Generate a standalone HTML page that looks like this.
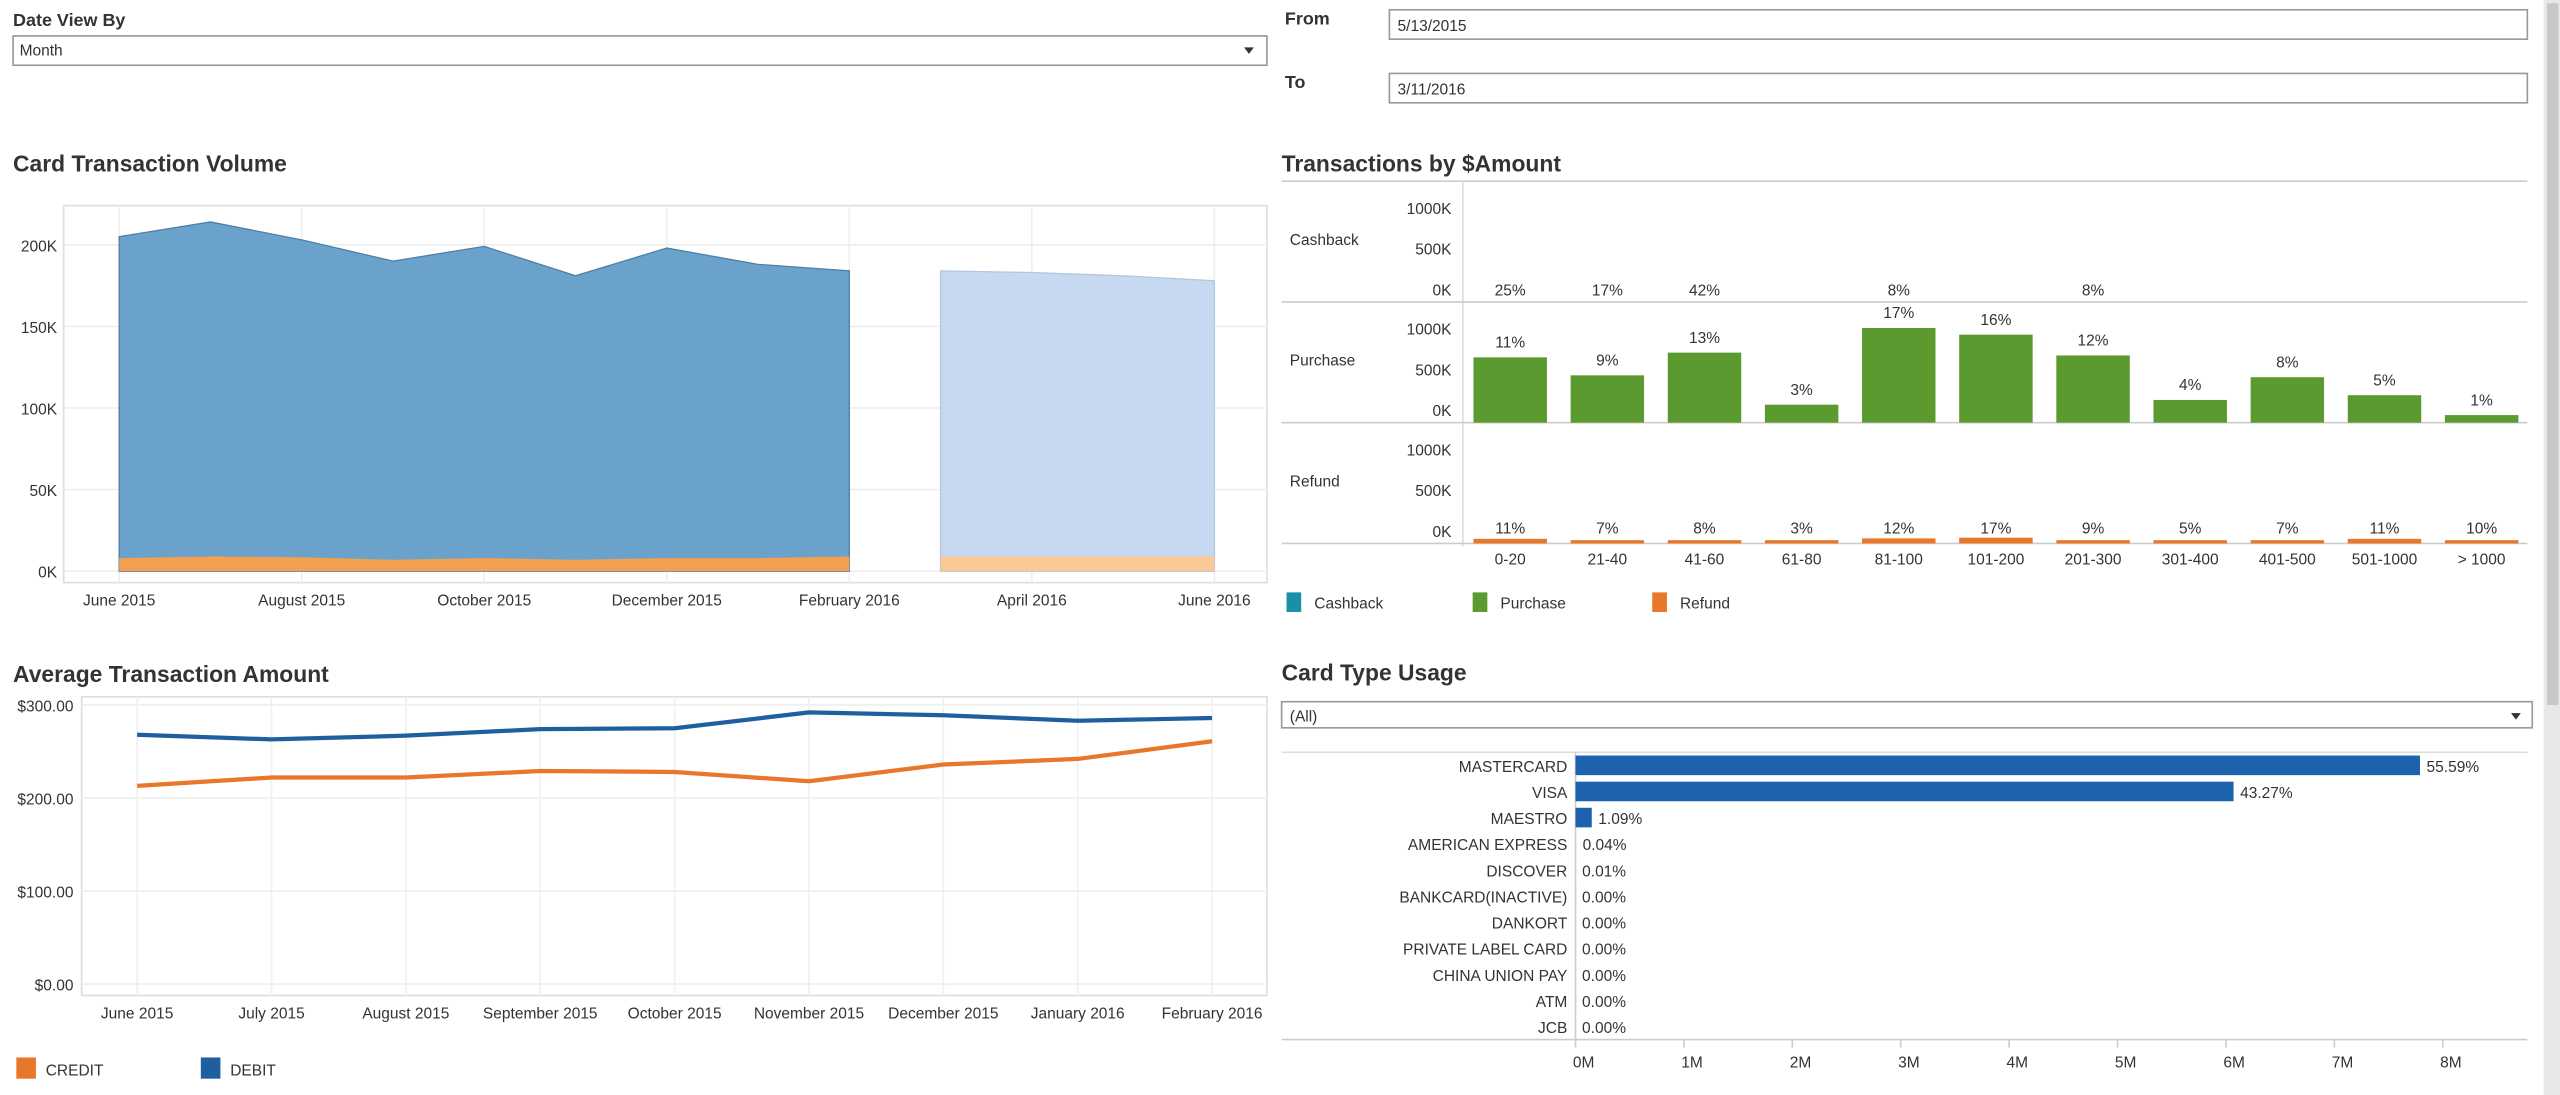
<!DOCTYPE html>
<html><head><meta charset="utf-8"><style>
html,body{margin:0;padding:0;background:#fff;overflow:hidden}
svg{display:block}
text{font-family:"Liberation Sans",sans-serif;fill:#333}
.t{font-size:14px;font-weight:bold;fill:#333}
.s{font-size:9.5px}
.lab{font-size:11px}
</style></head><body>
<svg id="root" width="2560" height="1095" viewBox="0 0 1568 671" preserveAspectRatio="none" xmlns="http://www.w3.org/2000/svg">
<text x="8" y="16" class="lab" font-weight="bold">Date View By</text>
<g><rect x="8" y="22" width="768" height="18" fill="#fff" stroke="#999"/><text x="12" y="34" class="s">Month</text><path d="M762 29 l6 0 l-3 4z" fill="#333"/></g>
<text x="787" y="15" class="lab" font-weight="bold">From</text>
<g><rect x="851" y="6" width="697" height="18" fill="#fff" stroke="#999"/><text x="856" y="19" class="s">5/13/2015</text></g>
<text x="787" y="54" class="lab" font-weight="bold">To</text>
<g><rect x="851" y="45" width="697" height="18" fill="#fff" stroke="#999"/><text x="856" y="58" class="s">3/11/2016</text></g>
<rect x="1558" y="0" width="10" height="671" fill="#e8e8e8"/>
<rect x="1560" y="2" width="7" height="430" fill="#c8c8c8"/>

<text x="8" y="105" class="t">Card Transaction Volume</text>
<g id="vol"></g>
<text x="785" y="105" class="t">Transactions by $Amount</text>
<g id="amt"></g>
<text x="8" y="418" class="t">Average Transaction Amount</text>
<g id="avg"></g>
<text x="785" y="417" class="t">Card Type Usage</text>
<g><rect x="785" y="430" width="766" height="16" fill="#fff" stroke="#999"/><text x="790" y="442" class="s">(All)</text><path d="M1538 437 l6 0 l-3 4z" fill="#333"/></g>
<g id="ct"></g>
</svg>
<script>
const volMonths = ['Jun 15','Jul 15','Aug 15','Sep 15','Oct 15','Nov 15','Dec 15','Jan 16','Feb 16'];
const volTotal = [205,214,203,190,199,181,198,188,184];
const volCredit = [8,9,8.5,7,8,7,8,8,9];
const fcTotal = [184,183,181,178];
const fcCredit = [9,9,9,9];
const volTicks = [0,50,100,150,200];
const volXLabels = ['June 2015','August 2015','October 2015','December 2015','February 2016','April 2016','June 2016'];
const amtCats = ['0-20','21-40','41-60','61-80','81-100','101-200','201-300','301-400','401-500','501-1000','> 1000'];
const purchaseVals = [690,500,740,190,1000,930,710,240,480,290,80];
const purchasePct = ['11%','9%','13%','3%','17%','16%','12%','4%','8%','5%','1%'];
const refundVals = [20,12,12,4,22,25,14,12,12,20,12];
const refundPct = ['11%','7%','8%','3%','12%','17%','9%','5%','7%','11%','10%'];
const cashbackPct = ['25%','17%','42%','','8%','','8%','','','',''];
const amtTicks = [0,500,1000];
const avgMonths = ['June 2015','July 2015','August 2015','September 2015','October 2015','November 2015','December 2015','January 2016','February 2016'];
const debitVals = [268,263,267,274,275,292,289,283,286];
const creditVals = [213,222,222,229,228,218,236,242,261];
const avgTicks = [0,100,200,300];
const cardTypes = ['MASTERCARD','VISA','MAESTRO','AMERICAN EXPRESS','DISCOVER','BANKCARD(INACTIVE)','DANKORT','PRIVATE LABEL CARD','CHINA UNION PAY','ATM','JCB'];
const cardVals = [7.79,6.07,0.15,0.005,0.001,0,0,0,0,0,0];
const cardPct = ['55.59%','43.27%','1.09%','0.04%','0.01%','0.00%','0.00%','0.00%','0.00%','0.00%','0.00%'];
const cardTicks = [0,1,2,3,4,5,6,7,8];

const NS='http://www.w3.org/2000/svg';
function mk(p,tag,at,txt){const e=document.createElementNS(NS,tag);for(const k in at)e.setAttribute(k,at[k]);if(txt!==undefined)e.textContent=txt;p.appendChild(e);return e;}

(function(){
const g=document.getElementById('vol');
const y=v=>350-v*(350-150)/200, x=i=>73+i*55.9;
mk(g,'rect',{x:39,y:126,width:737,height:231,fill:'#fff',stroke:'#ddd'});
volTicks.forEach(t=>{mk(g,'line',{x1:39,x2:776,y1:y(t),y2:y(t),stroke:'#eee'});
const tx=mk(g,'text',{x:35,y:y(t)+4,'text-anchor':'end',class:'s'},t+'K');

});
volXLabels.forEach((s,i)=>{const xx=x(i*2);mk(g,'line',{x1:xx,x2:xx,y1:126,y2:357,stroke:'#eee'});
const tx=mk(g,'text',{x:xx,y:371,'text-anchor':'middle',class:'s'},s);

});
let d='M'+x(0)+' '+y(0);volTotal.forEach((v,i)=>d+=' L'+x(i)+' '+y(v));d+=' L'+x(volTotal.length-1)+' '+y(0)+'Z';
const a=mk(g,'path',{d:d,fill:'#6aa2cc',stroke:'#4f7fa6','stroke-width':0.8});


d='M'+x(0)+' '+y(0);volCredit.forEach((v,i)=>d+=' L'+x(i)+' '+y(v));d+=' L'+x(volCredit.length-1)+' '+y(0)+'Z';
const b=mk(g,'path',{d:d,fill:'#f4a04e'});


const fx=i=>x(9)+(i)*(x(12)-x(9))/3;
d='M'+x(9)+' '+y(0);fcTotal.forEach((v,i)=>d+=' L'+fx(i)+' '+y(v));d+=' L'+fx(3)+' '+y(0)+'Z';
const c=mk(g,'path',{d:d,fill:'#c6d9f0',stroke:'#b3c6de','stroke-width':0.8});


d='M'+x(9)+' '+y(0);fcCredit.forEach((v,i)=>d+=' L'+fx(i)+' '+y(v));d+=' L'+fx(3)+' '+y(0)+'Z';
const e=mk(g,'path',{d:d,fill:'#fbc995'});


})();

(function(){
const g=document.getElementById('amt');
const cx=i=>925+i*59.5, bw=45;
mk(g,'line',{x1:785,x2:1548,y1:111,y2:111,stroke:'#ccc'});
mk(g,'line',{x1:896,x2:896,y1:111,y2:335,stroke:'#ddd'});
const rows=[{n:'Cashback',b:185},{n:'Purchase',b:259},{n:'Refund',b:333}];
const sc=58/1000;
rows.forEach(r=>{mk(g,'line',{x1:785,x2:1548,y1:r.b,y2:r.b,stroke:'#ccc'});
mk(g,'text',{x:790,y:r.b-35,class:'s'},r.n);
amtTicks.forEach(t=>{const tx=mk(g,'text',{x:889,y:r.b-4-t*0.05,'text-anchor':'end',class:'s'},t+'K');

});});
amtCats.forEach((c,i)=>{
 const h=purchaseVals[i]*sc;
 const r=mk(g,'rect',{x:cx(i)-bw/2,y:259-h,width:bw,height:h,fill:'#5b9a2e'});
 
 
 mk(g,'text',{x:cx(i),y:259-h-6,'text-anchor':'middle',class:'s'},purchasePct[i]);
 const rh=Math.max(2,refundVals[i]*0.14);
 const rr=mk(g,'rect',{x:cx(i)-bw/2,y:333-rh,width:bw,height:rh,fill:'#e8772a'});
 
 
 mk(g,'text',{x:cx(i),y:327,'text-anchor':'middle',class:'s'},refundPct[i]);
 if(cashbackPct[i])mk(g,'text',{x:cx(i),y:181,'text-anchor':'middle',class:'s'},cashbackPct[i]);
 const tx=mk(g,'text',{x:cx(i),y:346,'text-anchor':'middle',class:'s'},c);
 
 
});
[['Cashback','#1a8fa8',788],['Purchase','#5b9a2e',902],['Refund','#e8772a',1012]].forEach(l=>{
 const lg=mk(g,'g',{});
 
 
 mk(lg,'rect',{x:l[2],y:363,width:9,height:12,fill:l[1]});
 mk(lg,'text',{x:l[2]+17,y:373,class:'s'},l[0]);
});
})();

(function(){
const g=document.getElementById('avg');
const y=v=>603-v*0.57, x=i=>84+i*82.3;
mk(g,'rect',{x:50,y:427,width:726,height:183,fill:'#fff',stroke:'#ddd'});
avgTicks.forEach(t=>{mk(g,'line',{x1:50,x2:776,y1:y(t),y2:y(t),stroke:'#eee'});
const tx=mk(g,'text',{x:45,y:y(t)+4,'text-anchor':'end',class:'s'},'$'+t+'.00');

});
avgMonths.forEach((m,i)=>{mk(g,'line',{x1:x(i),x2:x(i),y1:427,y2:610,stroke:'#f0f0f0'});
const tx=mk(g,'text',{x:x(i),y:624,'text-anchor':'middle',class:'s'},m);

});
const p1=mk(g,'polyline',{points:debitVals.map((v,i)=>x(i)+','+y(v)).join(' '),fill:'none',stroke:'#1f5fa0','stroke-width':2.6});


const p2=mk(g,'polyline',{points:creditVals.map((v,i)=>x(i)+','+y(v)).join(' '),fill:'none',stroke:'#e8772a','stroke-width':2.6});


[['CREDIT','#e8772a',10],['DEBIT','#1f5fa0',123]].forEach(l=>{
 const lg=mk(g,'g',{});
 
 
 mk(lg,'rect',{x:l[2],y:648,width:12,height:13,fill:l[1]});
 mk(lg,'text',{x:l[2]+18,y:659,class:'s'},l[0]);
});
})();

(function(){
const g=document.getElementById('ct');
const x=v=>965+v*66.4, y=i=>469+i*16;
mk(g,'line',{x1:785,x2:1548,y1:461,y2:461,stroke:'#ddd'});
mk(g,'line',{x1:785,x2:1548,y1:637,y2:637,stroke:'#ccc'});
mk(g,'line',{x1:965,x2:965,y1:461,y2:637,stroke:'#ccc'});
cardTypes.forEach((c,i)=>{
 mk(g,'text',{x:960,y:y(i)+4,'text-anchor':'end',class:'s'},c);
 const w=x(cardVals[i])-x(0);
 if(w>0.5){const r=mk(g,'rect',{x:x(0),y:y(i)-6,width:w,height:12,fill:'#1c62ad'});
 
 }
 mk(g,'text',{x:x(cardVals[i])+4,y:y(i)+4,class:'s'},cardPct[i]);
});
cardTicks.forEach(t=>{mk(g,'line',{x1:x(t),x2:x(t),y1:637,y2:642,stroke:'#ccc'});
const tx=mk(g,'text',{x:x(t)+5,y:654,'text-anchor':'middle',class:'s'},t+'M');

});
})();
</script>
</body></html>
